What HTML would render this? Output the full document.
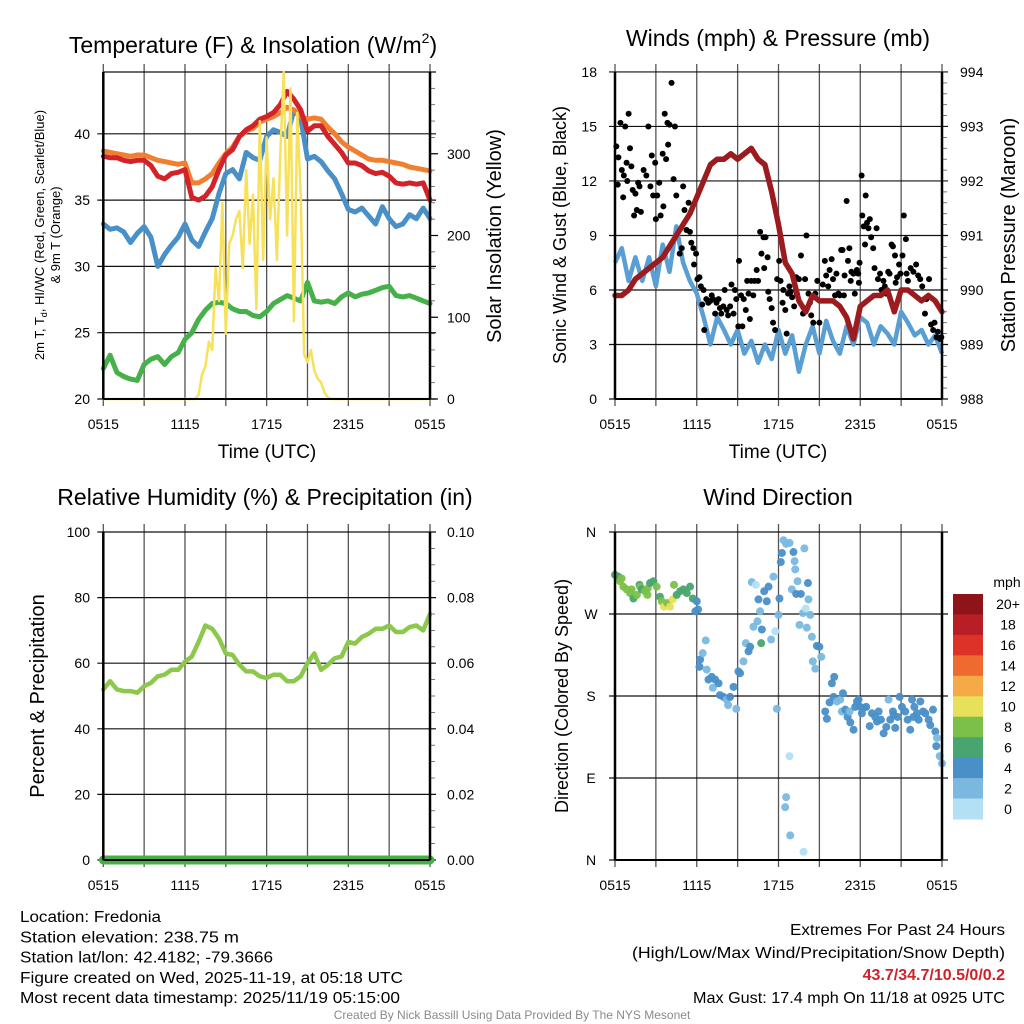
<!DOCTYPE html>
<html><head><meta charset="utf-8"><title>Mesonet Station Chart</title>
<style>
html,body{margin:0;padding:0;background:#fff;}
svg{display:block;font-family:"Liberation Sans",Arial,sans-serif;}
</style></head>
<body>
<svg id="chart" width="1024" height="1024" viewBox="0 0 1024 1024" xmlns="http://www.w3.org/2000/svg"></svg>
<script>
// ---------- DATA ----------
const timeTicks = ["0515","1115","1715","2315","0515"];
const tempTicks = [20,25,30,35,40];
const insoTicks = [0,100,200,300];
const temp2m = [38.3,38.2,38.2,38.0,37.9,38.0,38.0,37.6,36.8,36.6,37.0,37.1,37.3,35.2,35.0,35.3,36.0,37.3,38.4,38.8,39.8,40.3,40.6,41.1,41.3,41.6,42.2,43.2,42.6,41.8,40.2,40.6,40.6,39.8,39.2,38.6,37.8,37.8,37.6,37.2,37.0,37.1,36.8,36.3,36.2,36.3,36.2,36.3,35.0];
const temp9m = [38.7,38.6,38.5,38.4,38.3,38.4,38.4,38.2,38.0,37.9,37.8,37.7,37.8,36.3,36.3,36.6,37.0,37.8,38.5,39.0,39.8,40.2,40.4,40.9,41.1,41.3,41.6,42.0,41.8,41.3,41.1,41.2,41.1,40.5,40.0,39.4,39.0,38.7,38.4,38.1,38.0,38.0,37.9,37.8,37.7,37.5,37.4,37.3,37.2];
const windChill = [33.2,32.8,32.9,32.6,31.8,32.5,33.0,32.2,30.0,30.9,31.6,32.2,33.2,32.0,31.5,32.6,33.6,35.5,37.0,37.3,36.6,38.6,38.2,38.0,39.8,40.3,40.1,39.8,41.8,41.2,38.1,38.3,37.9,37.2,36.6,35.5,34.3,34.1,34.4,33.8,33.2,34.5,33.6,33.0,33.2,33.9,33.6,34.4,33.6];
const dewpoint = [22.3,23.3,22.0,21.7,21.5,21.4,22.6,23.0,23.2,22.6,23.2,23.5,24.5,25.0,26.0,26.7,27.2,27.3,27.2,26.8,26.6,26.6,26.3,26.2,26.6,27.2,27.5,27.8,27.6,27.4,28.8,27.4,27.3,27.4,27.2,27.7,28.0,27.7,27.9,28.0,28.2,28.4,28.5,27.8,27.7,27.8,27.6,27.4,27.2];
const insolation = [0,0,0,0,0,0,0,0,0,0,0,0,0,0,0,0,0,0,0,0,0,0,0,0,0,0,0,0,5,30,40,70,60,160,120,240,80,190,200,220,230,160,280,190,250,110,340,170,320,220,270,170,300,400,200,380,95,350,250,55,45,60,35,25,20,8,2,0,0,0,0,0,0,0,0,0,0,0,0,0,0,0,0,0,0,0,0,0,0,0,0,0,0,0,0,0,0];

const windTicks = [0,3,6,9,12,15,18];
const presTicks = [988,989,990,991,992,993,994];
const windSpeed = [7.5,8.3,6.5,7.8,6.5,7.8,6.2,8.5,7.0,9.5,7.5,6.5,5.8,4.5,3.0,4.5,3.8,3.0,3.8,2.5,3.2,2.0,3.0,2.2,3.8,2.5,3.5,1.5,3.0,4.0,2.5,4.3,3.2,2.5,4.0,3.0,4.5,4.2,3.0,4.0,3.6,3.0,4.8,4.2,3.5,3.8,3.0,3.5,2.5];
const pressure = [989.9,989.9,990.0,990.2,990.3,990.4,990.5,990.6,990.8,991.0,991.2,991.4,991.7,992.0,992.3,992.4,992.4,992.5,992.4,992.5,992.6,992.4,992.3,991.8,991.2,990.5,990.3,989.8,989.6,989.9,989.8,989.8,989.8,989.7,989.5,989.1,989.7,989.8,989.9,989.9,990.0,989.6,990.0,990.0,989.9,989.8,989.9,989.8,989.6];
const gustHours = [0.1,0.2,0.25,0.4,0.5,0.6,0.65,0.75,0.85,0.9,1.0,1.1,1.2,1.3,1.4,1.5,1.6,1.7,1.8,1.9,2.1,2.3,2.45,2.6,2.7,2.8,2.95,3.0,3.1,3.25,3.35,3.5,3.55,3.65,3.75,3.85,3.9,4.0,4.15,4.3,4.4,4.5,4.75,4.9,5.0,5.1,5.25,5.4,5.5,5.6,5.75,5.8,5.95,6.05,6.2,6.3,6.4,6.5,6.55,6.7,6.85,7.0,7.1,7.2,7.35,7.45,7.6,7.7,7.8,7.95,8.05,8.2,8.3,8.45,8.55,8.7,8.8,8.9,9.05,9.1,9.25,9.35,9.45,9.6,9.7,9.8,9.9,10.0,10.15,10.25,10.4,10.5,10.65,10.75,10.9,10.95,11.05,11.2,11.25,11.35,11.5,11.6,11.75,11.9,12.05,12.15,12.3,12.35,12.5,12.6,12.7,12.8,12.9,13.0,13.15,13.3,13.35,13.5,13.65,13.8,13.95,14.05,14.2,14.3,14.4,14.55,14.7,14.85,15.0,15.25,15.4,15.5,15.65,15.75,15.9,16.0,16.15,16.25,16.4,16.5,16.6,16.7,16.8,16.85,17.0,17.1,17.2,17.3,17.35,17.5,17.6,17.75,17.85,17.9,17.95,18.1,18.15,18.25,18.35,18.4,18.5,18.6,18.7,18.8,18.95,19.05,19.2,19.3,19.45,19.55,19.7,19.8,19.9,20.05,20.15,20.3,20.4,20.55,20.6,20.7,20.85,20.95,21.1,21.2,21.35,21.4,21.5,21.7,21.9,22.1,22.25,22.4,22.55,22.75,22.85,23.05,23.2,23.35,23.45,23.6,23.7,23.85,23.95];
const gustValues = [13.9,11.8,13.3,15.2,12.6,11.1,12.3,15.0,13.0,12.0,15.7,13.8,12.8,11.5,10.1,11.3,10.4,11.9,11.7,10.3,12.6,12.3,15.0,11.7,13.4,11.2,13.0,9.9,11.2,11.9,10.1,13.5,10.6,15.7,13.2,15.2,14.0,15.1,17.4,12.1,15.0,11.2,8.0,8.3,11.7,10.4,9.3,10.8,9.2,8.6,8.3,7.4,8.0,6.6,6.7,6.2,5.2,6.0,3.8,5.5,5.3,5.4,5.7,5.5,4.7,5.3,5.5,5.0,4.7,5.1,6.0,4.9,4.6,5.1,6.3,4.7,6.0,5.5,4.0,7.6,5.7,4.0,5.5,4.9,6.5,5.8,4.4,6.5,5.7,6.5,7.1,6.5,9.2,8.0,8.9,7.2,8.9,7.8,5.9,5.5,5.0,4.2,3.8,6.6,7.6,6.5,5.3,6.0,4.9,3.6,5.8,6.2,5.9,5.6,5.1,6.7,5.8,6.6,7.9,4.7,6.6,9.0,5.8,5.3,4.6,4.2,5.8,6.5,4.2,6.3,7.6,6.8,6.2,7.1,7.7,6.6,5.7,6.9,5.8,5.7,8.2,8.2,5.7,6.8,10.9,7.6,8.3,6.5,7.0,6.9,5.8,7.1,6.9,6.4,7.5,12.3,10.1,9.5,8.5,11.2,9.7,9.4,9.9,8.9,8.3,7.2,9.4,6.6,6.9,6.0,6.5,6.2,5.8,7.0,6.9,8.5,8.4,7.9,6.4,6.7,7.4,6.9,7.9,10.1,8.8,6.9,6.5,7.2,7.0,7.4,6.8,6.6,6.2,4.7,5.5,6.6,4.1,3.8,4.2,3.4,3.7,3.3,3.4];

const rhTicks = [0,20,40,60,80,100];
const precipTicks = ["0.00","0.02","0.04","0.06","0.08","0.10"];
const humidity = [52,54.5,52,51.5,51.5,51,53,54,56,56.5,58,58,60.5,62,66.5,71.5,70.5,67.5,63,62.5,59.5,57.5,57.5,56,55.5,56.5,56.5,54.5,54.5,56,60,63,58,59.5,61.5,62,66.5,66,68,69,70.5,70.5,71.5,69.5,69.5,71,71.5,70,75];
const precip = [0,0,0,0,0,0,0,0,0,0,0,0,0,0,0,0,0,0,0,0,0,0,0,0,0];

const dirTicks = ["N","E","S","W","N"];
const speedLabels = ["20+","18","16","14","12","10","8","6","4","2","0"];
const speedColors = ["#8e1419","#b81e25","#dc3227","#ef6a2e","#f5a947","#e6e05a","#7cc04a","#48a56f","#4a8fc7","#7ab8e0","#b3e0f5"];
const dirHours = [0,0.25,0.37,0.49,0.61,0.86,1.1,1.22,1.35,1.6,1.8,1.84,1.96,2.2,2.38,2.4,2.57,2.82,3.06,3.3,3.43,3.6,3.84,4.04,4.24,4.33,4.53,4.78,5.02,5.27,5.51,5.71,5.9,6.0,6.1,6.2,6.25,6.44,6.66,6.73,6.86,7.1,7.18,7.35,7.6,7.7,7.96,8.2,8.3,8.45,8.7,8.9,9.06,9.18,9.43,9.6,9.8,9.92,10.04,10.16,10.34,10.46,10.53,10.65,10.73,10.78,10.95,11.14,11.27,11.46,11.63,11.76,11.88,12.0,12.07,12.17,12.25,12.37,12.49,12.56,12.56,12.81,12.81,12.86,12.98,13.1,13.18,13.23,13.3,13.4,13.54,13.64,13.8,13.84,13.9,14.0,14.08,14.16,14.2,14.33,14.45,14.52,14.7,14.82,15.0,15.14,15.43,15.55,15.75,15.92,16.04,16.09,16.29,16.53,16.65,16.73,16.9,17.07,17.22,17.27,17.51,17.63,17.76,17.88,18.0,18.12,18.25,18.44,18.69,18.86,19.1,19.23,19.35,19.52,19.72,19.91,20.08,20.2,20.4,20.45,20.57,20.74,20.89,21.06,21.3,21.48,21.67,21.8,21.9,21.97,22.16,22.29,22.41,22.61,22.78,23.02,23.14,23.34,23.51,23.58,23.63,23.83,24.0];
const dirDegrees = [313,311,306,309,300,297,293,297,287,291,302,300,297,295,291,298,304,306,300,289,284,278,282,278,286,302,291,295,297,293,300,287,273,284,275,212,220,227,241,209,198,201,189,198,194,181,179,176,170,179,190,166,207,205,218,238,229,234,305,256,302,262,286,273,238,253,295,284,300,242,311,251,166,269,287,327,337,351,58,347,69,348,114,27,297,338,328,319,292,306,258,292,271,9,342,276,255,304,286,269,245,218,210,235,234,223,163,155,173,194,179,201,174,176,163,183,165,157,163,151,143,168,174,176,168,161,167,168,147,161,157,152,163,154,139,146,176,154,163,159,145,157,179,168,163,154,143,176,157,168,161,154,174,163,161,154,148,165,141,125,134,114,106];
const dirSpeeds = [6,6,8,8,8,8,8,8,6,8,6,8,6,8,8,8,6,6,8,6,8,10,8,10,10,8,6,6,6,6,6,6,4,4,4,4,4,2,2,2,4,4,2,4,4,4,4,2,2,4,4,2,4,4,2,2,4,4,2,2,0,2,4,2,6,4,4,4,4,2,2,0,2,2,4,4,4,2,2,2,2,2,0,2,2,4,2,2,4,2,2,4,2,0,2,0,2,4,2,2,2,2,2,4,4,2,4,4,4,4,4,4,2,2,2,4,4,4,2,4,4,4,4,4,4,4,4,4,4,4,4,4,4,4,4,4,2,4,4,4,4,4,4,4,4,4,4,4,4,4,4,4,4,4,4,4,4,4,4,4,2,2,2,2,2,4];

// ---------- HELPERS ----------
const NS = "http://www.w3.org/2000/svg";
const svg = document.getElementById("chart");
function mk(tag, attrs, parent) {
  const el = document.createElementNS(NS, tag);
  for (const k in attrs) el.setAttribute(k, attrs[k]);
  (parent || svg).appendChild(el);
  return el;
}
function txt(str, x, y, size, anchor, parent, extra) {
  const t = mk("text", Object.assign({x: x, y: y, "font-size": size, "text-anchor": anchor || "middle", fill: "#000"}, extra || {}), parent);
  t.textContent = str;
  return t;
}
function linePath(xs, ys) {
  let d = "";
  for (let i = 0; i < xs.length; i++) d += (i ? "L" : "M") + xs[i].toFixed(1) + " " + ys[i].toFixed(1);
  return d;
}
function frame(p, g) {
  for (let k = 0; k <= 8; k++) {
    const x = p.x0 + k * (p.x1 - p.x0) / 8;
    const l = mk("line", {x1: x, x2: x, y1: p.y0 - 8, y2: p.y1 + 7, stroke: "#555", "stroke-width": 1.3}, g);
    
    
  }
  for (let k = 0; k < 5; k++) {
    const x = p.x0 + k * (p.x1 - p.x0) / 4;
    const t = txt(timeTicks[k], x, p.y1 + 30, 14, "middle", g);
    
    
  }
}
function hline(p, y, g, ext) {
  const l = mk("line", {x1: p.x0 - (ext === undefined ? 6 : ext), x2: p.x1 + 6, y1: y, y2: y, stroke: "#111", "stroke-width": 1.2}, g);
  
  
}
function border(p, g) {
  const a = mk("line", {x1: p.x0, x2: p.x0, y1: p.y0, y2: p.y1, stroke: "#000", "stroke-width": 2.5}, g);
  
  
  const b = mk("line", {x1: p.x1, x2: p.x1, y1: p.y0, y2: p.y1, stroke: "#000", "stroke-width": 2.5}, g);
  
  
  const c = mk("line", {x1: p.x0, x2: p.x1, y1: p.y1, y2: p.y1, stroke: "#000", "stroke-width": 2}, g);
  
  
}
function minorTicks(p, g, y0, y1, n) {
  for (let k = 0; k <= n; k++) {
    const y = y0 + k * (y1 - y0) / n;
    const m = mk("line", {x1: p.x1, x2: p.x1 + 5, y1: y, y2: y, stroke: "#555", "stroke-width": 0.8}, g);
    
    
  }
}

// ---------- PANEL 1 ----------
(function () {
  const p = {x0: 103.3, x1: 430, y0: 72, y1: 399};
  const g = mk("g", {});
  
  
  const xT = h => p.x0 + h / 24 * (p.x1 - p.x0);
  const yT = v => p.y1 - (v - 20) * 13.26;
  const yI = v => p.y1 - v * 0.8175;
  const title = txt("Temperature (F) & Insolation (W/m", 253, 53, 23, "middle", g);
  const sup = mk("tspan", {"font-size": 14, dy: -10}, title); sup.textContent = "2";
  const cl = mk("tspan", {dy: 10}, title); cl.textContent = ")";
  
  
  minorTicks(p, g, p.y1, yI(400), 20);
  frame(p, g);
  tempTicks.forEach(v => {
    hline(p, yT(v), g);
    const t = txt(String(v), 90, yT(v) + 5, 14, "end", g);
    
    
  });
  hline(p, p.y0, g, 0);
  insoTicks.forEach(v => {
    const m = mk("line", {x1: p.x1, x2: p.x1 + 8, y1: yI(v), y2: yI(v), stroke: "#000", "stroke-width": 1.2}, g);
    
    
    const t = txt(String(v), 447, yI(v) + 5, 14, "start", g);
    
    
  });
  const series = [[dewpoint, "#46b04a", "dewpoint-line"], [windChill, "#4a90c8", "wind-chill-line"], [temp9m, "#f08030", "temp-9m-line"], [temp2m, "#d2232a", "temp-2m-line"]];
  series.forEach(s => {
    const xs = s[0].map((v, i) => xT(i * 24 / (s[0].length - 1)));
    const ys = s[0].map(v => yT(v));
    const l = mk("path", {d: linePath(xs, ys), fill: "none", stroke: s[1], "stroke-width": 5, "stroke-linejoin": "round", "stroke-linecap": "round"}, g);
    
    
  });
  const ixs = insolation.map((v, i) => xT(i * 24 / (insolation.length - 1)));
  const iys = insolation.map(v => yI(v));
  const il = mk("path", {d: linePath(ixs, iys), fill: "none", stroke: "#f8e15a", "stroke-width": 2.5, "stroke-linejoin": "round"}, g);
  
  
  border(p, g);
  const yl = mk("text", {transform: "translate(44,235) rotate(-90)", "font-size": 13, "text-anchor": "middle"}, g);
  yl.innerHTML = '2m T, T<tspan font-size="9" dy="3">d</tspan><tspan dy="-3">, HI/WC (Red, Green, Scarlet/Blue)</tspan>';
  
  
  const yl2 = txt("& 9m T (Orange)", 0, 0, 13, "middle", g, {transform: "translate(60,235) rotate(-90)"});
  
  
  const yr = txt("Solar Insolation (Yellow)", 0, 0, 20, "middle", g, {transform: "translate(501,236) rotate(-90)"});
  
  
  const xl = txt("Time (UTC)", 267, 458, 19, "middle", g);
  
  
})();

// ---------- PANEL 2 ----------
(function () {
  const p = {x0: 615, x1: 942, y0: 72, y1: 399};
  const g = mk("g", {});
  
  
  const xT = h => p.x0 + h / 24 * (p.x1 - p.x0);
  const yW = v => p.y1 - v * 18.17;
  const yP = v => p.y1 - (v - 988) * 54.5;
  const title = txt("Winds (mph) & Pressure (mb)", 778, 46, 23, "middle", g);
  
  
  minorTicks(p, g, p.y1, p.y0, 30);
  frame(p, g);
  windTicks.forEach(v => {
    hline(p, yW(v), g);
    const t = txt(String(v), 597, yW(v) + 5, 14, "end", g);
    
    
  });
  presTicks.forEach(v => {
    const t = txt(String(v), 960, yP(v) + 5, 14, "start", g);
    
    
  });
  const wxs = windSpeed.map((v, i) => xT(i * 24 / (windSpeed.length - 1)));
  const wys = windSpeed.map(v => yW(v));
  const wl = mk("path", {d: linePath(wxs, wys), fill: "none", stroke: "#5a9fd4", "stroke-width": 4.5, "stroke-linejoin": "round"}, g);
  
  
  gustHours.forEach((h, i) => {
    const c = mk("circle", {cx: xT(h), cy: yW(gustValues[i]), r: 3, fill: "#000"}, g);
    
    
  });
  const pxs = pressure.map((v, i) => xT(i * 24 / (pressure.length - 1)));
  const pys = pressure.map(v => yP(v));
  const pl = mk("path", {d: linePath(pxs, pys), fill: "none", stroke: "#9b1b1e", "stroke-width": 5.5, "stroke-linejoin": "round", "stroke-linecap": "round"}, g);
  
  
  border(p, g);
  const yl = txt("Sonic Wind & Gust (Blue, Black)", 0, 0, 18, "middle", g, {transform: "translate(566,235) rotate(-90)"});
  
  
  const yr = txt("Station Pressure (Maroon)", 0, 0, 20, "middle", g, {transform: "translate(1015,235) rotate(-90)"});
  
  
  const xl = txt("Time (UTC)", 778, 458, 19, "middle", g);
  
  
})();

// ---------- PANEL 3 ----------
(function () {
  const p = {x0: 103.3, x1: 430, y0: 532, y1: 860};
  const g = mk("g", {});
  
  
  const xT = h => p.x0 + h / 24 * (p.x1 - p.x0);
  const yR = v => p.y1 - v * 3.28;
  const yPr = v => p.y1 - v * 3280;
  const title = txt("Relative Humidity (%) & Precipitation (in)", 265, 505, 23, "middle", g);
  
  
  minorTicks(p, g, p.y1, p.y0, 20);
  frame(p, g);
  rhTicks.forEach((v, k) => {
    hline(p, yR(v), g);
    const t = txt(String(v), 90, yR(v) + 5, 14, "end", g);
    
    
    const t2 = txt(precipTicks[k], 447, yR(v) + 5, 14, "start", g);
    
    
  });
  const pxs = precip.map((v, i) => xT(i * 24 / (precip.length - 1)));
  const pys = precip.map(v => yPr(v));
  const pl = mk("path", {d: linePath(pxs, pys), fill: "none", stroke: "#45b048", "stroke-width": 9, "stroke-linecap": "round"}, g);
  
  
  const hxs = humidity.map((v, i) => xT(i * 24 / (humidity.length - 1)));
  const hys = humidity.map(v => yR(v));
  const hl = mk("path", {d: linePath(hxs, hys), fill: "none", stroke: "#8cc84b", "stroke-width": 4.5, "stroke-linejoin": "round", "stroke-linecap": "round"}, g);
  
  
  border(p, g);
  const yl = txt("Percent & Precipitation", 0, 0, 20, "middle", g, {transform: "translate(44,696) rotate(-90)"});
  
  
})();

// ---------- PANEL 4 ----------
(function () {
  const p = {x0: 615, x1: 942, y0: 532, y1: 860};
  const g = mk("g", {});
  
  
  const xT = h => p.x0 + h / 24 * (p.x1 - p.x0);
  const yD = d => p.y1 - d / 360 * (p.y1 - p.y0);
  const title = txt("Wind Direction", 778, 505, 23, "middle", g);
  
  
  frame(p, g);
  dirTicks.forEach((lab, k) => {
    const y = yD(k * 90);
    hline(p, y, g);
    const t = txt(lab, 591, y + 5, 14, "middle", g);
    
    
  });
  dirHours.forEach((h, i) => {
    const idx = Math.min(10, Math.max(0, 10 - Math.round(dirSpeeds[i] / 2)));
    const c = mk("circle", {cx: xT(h), cy: yD(dirDegrees[i]), r: 4, fill: speedColors[idx], "fill-opacity": 0.95}, g);
    
    
  });
  border(p, g);
  const yl = txt("Direction (Colored By Speed)", 0, 0, 18, "middle", g, {transform: "translate(568,696) rotate(-90)"});
  
  
  const cb = mk("g", {}, g);
  
  
  const h = (819 - 594) / speedLabels.length;
  speedLabels.forEach((lab, k) => {
    const r = mk("rect", {x: 953, y: 594 + k * h, width: 30, height: h + 0.5, fill: speedColors[k]}, cb);
    
    
    const t = txt(lab, 1008, 594 + k * h + h / 2 + 5, 14, "middle", cb);
    
    
  });
  const u = txt("mph", 1007, 587, 14, "middle", cb);
  
  
})();

// ---------- FOOTER ----------
(function () {
  const g = mk("g", {});
  
  
  const lines = ["Location: Fredonia","Station elevation: 238.75 m","Station lat/lon: 42.4182; -79.3666","Figure created on Wed, 2025-11-19, at 05:18 UTC","Most recent data timestamp: 2025/11/19 05:15:00"];
  const widths = [141, 219, 253, 383, 380];
  lines.forEach((s, k) => {
    const t = txt(s, 20, 922 + k * 20.3, 15.5, "start", g, {textLength: widths[k], lengthAdjust: "spacingAndGlyphs"});
    
    
  });
  const r = mk("g", {});
  
  
  const a = txt("Extremes For Past 24 Hours", 1005, 935, 16, "end", r, {textLength: 215, lengthAdjust: "spacingAndGlyphs"});
  
  
  const b = txt("(High/Low/Max Wind/Precipitation/Snow Depth)", 1005, 958, 16, "end", r, {textLength: 373, lengthAdjust: "spacingAndGlyphs"});
  
  
  const c = txt("43.7/34.7/10.5/0/0.2", 1005, 980, 16, "end", r, {fill: "#d0222a", "font-weight": "bold"});
  
  
  const d = txt("Max Gust: 17.4 mph On 11/18 at 0925 UTC", 1005, 1003, 16, "end", r, {textLength: 312, lengthAdjust: "spacingAndGlyphs"});
  
  
  const f = txt("Created By Nick Bassill Using Data Provided By The NYS Mesonet", 512, 1019, 12, "middle", null, {fill: "#8a8a8a"});
  
  
})();
</script>
</body></html>
